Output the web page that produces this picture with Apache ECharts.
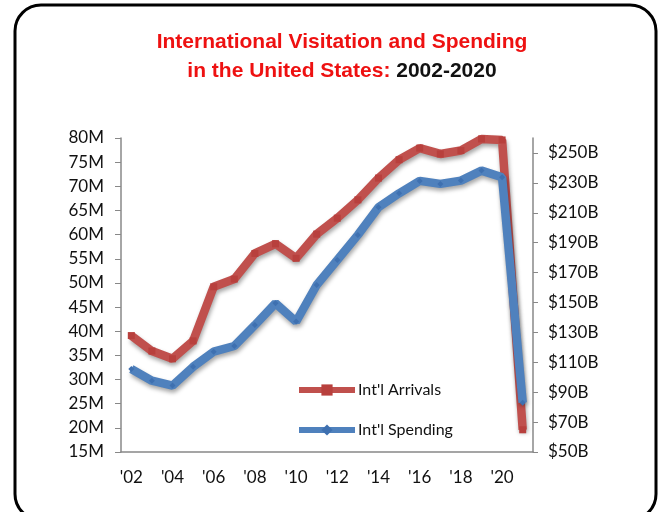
<!DOCTYPE html>
<html>
<head>
<meta charset="utf-8">
<script src="https://cdn.jsdelivr.net/npm/echarts@6/dist/echarts.min.js"></script>
<style>
  html, body { margin: 0; padding: 0; background: #fff; }
  #main { width: 663px; height: 512px; }
</style>
</head>
<body>
<div id="main"></div>
<script>
// years on the x axis (last point is the covid drop)
var years = ["'02", "'03", "'04", "'05", "'06", "'07", "'08", "'09", "'10", "'11",
             "'12", "'13", "'14", "'15", "'16", "'17", "'18", "'19", "'20", "'21"];
// int'l arrivals, millions (left axis)
var arrivals = [39.1, 35.9, 34.3, 38.0, 49.2, 50.8, 56.1, 58.1, 55.1, 60.1,
                63.4, 67.2, 71.7, 75.5, 77.9, 76.7, 77.4, 79.8, 79.6, 19.6];
// int'l spending, billions $ (right axis)
var spending = [105.5, 97.7, 94.4, 107.0, 117.1, 120.9, 134.9, 149.5, 137.2, 161.7,
                178.4, 195.2, 213.7, 223.0, 231.3, 229.3, 231.5, 238.2, 233.7, 83.0];

var myChart = echarts.init(document.getElementById('main'));

var labelFont = { fontFamily: 'Lato', fontSize: 17, color: '#111' };

var option = {
    backgroundColor: '#fff',
    animation: false,
    title: {
        text: '{r|International Visitation and Spending}\n{r|in the United States: }{k|2002-2020}',
        left: 337,
        textAlign: 'center',
        top: 23,
        textStyle: {
            rich: {
                r: { color: '#ee1111', fontSize: 21, fontWeight: 'bold', fontFamily: 'Liberation Sans', lineHeight: 29 },
                k: { color: '#111', fontSize: 21, fontWeight: 'bold', fontFamily: 'Liberation Sans', lineHeight: 29 }
            }
        }
    },
    graphic: [{
        type: 'rect',
        shape: { x: 15, y: 5, width: 641, height: 515, r: 26 },
        style: { fill: 'none', stroke: '#000', lineWidth: 3 },
        silent: true
    }],
    legend: {
        orient: 'vertical',
        left: 296,
        top: 382,
        padding: 0,
        itemWidth: 56,
        itemHeight: 14,
        itemGap: 24,
        lineStyle: { width: 6 },
        textStyle: { fontFamily: 'Lato', fontSize: 16, color: '#111', padding: [0, 0, 0, -2] },
        data: ["Int'l Arrivals", "Int'l Spending"]
    },
    grid: { left: 121, right: 130, top: 138, bottom: 60 },
    xAxis: {
        type: 'category',
        data: years,
        boundaryGap: true,
        axisLine: { lineStyle: { color: '#888', width: 1.5 } },
        axisTick: { inside: true, length: 5, interval: 0, lineStyle: { color: '#888' } },
        axisLabel: Object.assign({ interval: 1, margin: 17 }, labelFont)
    },
    yAxis: [{
        type: 'value',
        min: 15, max: 80, interval: 5,
        splitLine: { show: false },
        axisLine: { show: true, lineStyle: { color: '#888', width: 1.5 } },
        axisTick: { show: true, length: 6, lineStyle: { color: '#888' } },
        axisLabel: Object.assign({ margin: 17, formatter: function (v) { return v + 'M'; } }, labelFont)
    }, {
        type: 'value',
        position: 'right',
        min: 50, max: 260, interval: 20,
        splitLine: { show: false },
        axisLine: { show: true, lineStyle: { color: '#888', width: 1.5 } },
        axisTick: { show: true, length: 5, lineStyle: { color: '#888' } },
        axisLabel: Object.assign({
            margin: 15, showMaxLabel: false,
            formatter: function (v) { return v > 250 ? '' : '$' + v + 'B'; }
        }, labelFont)
    }],
    series: [{
        name: "Int'l Arrivals",
        type: 'line',
        yAxisIndex: 0,
        data: arrivals,
        symbol: 'rect',
        symbolSize: 7,
        itemStyle: { color: '#b8403d' },
        lineStyle: {
            color: '#c0504d', width: 8.5,
            shadowColor: 'rgba(0,0,0,0.35)', shadowBlur: 4, shadowOffsetX: 1, shadowOffsetY: 3
        }
    }, {
        name: "Int'l Spending",
        type: 'line',
        yAxisIndex: 1,
        data: spending,
        symbol: 'diamond',
        symbolSize: 6,
        itemStyle: { color: '#3e70b0' },
        lineStyle: {
            color: '#4f81bd', width: 8.5,
            shadowColor: 'rgba(0,0,0,0.35)', shadowBlur: 4, shadowOffsetX: 1, shadowOffsetY: 3
        }
    }]
};
myChart.setOption(option);
</script>
</body>
</html>
